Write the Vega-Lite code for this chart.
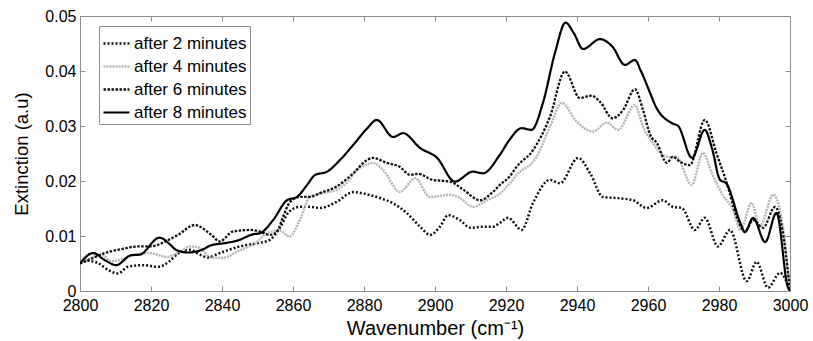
{
  "$schema": "https://vega.github.io/schema/vega-lite/v6.json",
  "autosize": {"type": "none"},
  "width": 710,
  "height": 275,
  "padding": {"left": 80, "top": 16, "right": 23, "bottom": 50},
  "background": "white",
  "config": {
    "font": "Liberation Sans",
    "view": {"stroke": "#8c8c8c", "strokeWidth": 1},
    "axis": {"grid": false, "domainColor": "#8c8c8c", "tickColor": "#8c8c8c", "labelColor": "#000", "titleColor": "#000", "labelFont": "Liberation Sans", "titleFont": "Liberation Sans", "titleFontWeight": "normal", "labelFontSize": 16, "titleFontSize": 20},
    "legend": {"labelExpr": "datum.label + '\u00a0\u00a0\u00a0\u00a0\u00a0\u00a0'"}
  },
  "datasets": {
    "spec": [
      {"s":"after 2 minutes","x":2800,"y":0.005},{"s":"after 2 minutes","x":2802,"y":0.0055},{"s":"after 2 minutes","x":2805,"y":0.0051},{"s":"after 2 minutes","x":2808,"y":0.0038},{"s":"after 2 minutes","x":2810.7,"y":0.0032},{"s":"after 2 minutes","x":2813.5,"y":0.0044},{"s":"after 2 minutes","x":2818,"y":0.0047},{"s":"after 2 minutes","x":2822,"y":0.0044},{"s":"after 2 minutes","x":2825,"y":0.0053},{"s":"after 2 minutes","x":2827.6,"y":0.0068},{"s":"after 2 minutes","x":2831,"y":0.0075},{"s":"after 2 minutes","x":2833.8,"y":0.0066},{"s":"after 2 minutes","x":2836,"y":0.0061},{"s":"after 2 minutes","x":2839,"y":0.0068},{"s":"after 2 minutes","x":2842,"y":0.0075},{"s":"after 2 minutes","x":2845,"y":0.0081},{"s":"after 2 minutes","x":2850,"y":0.0087},{"s":"after 2 minutes","x":2853.5,"y":0.0093},{"s":"after 2 minutes","x":2856.3,"y":0.0115},{"s":"after 2 minutes","x":2859,"y":0.0145},{"s":"after 2 minutes","x":2862,"y":0.0153},{"s":"after 2 minutes","x":2864.5,"y":0.0153},{"s":"after 2 minutes","x":2867.6,"y":0.0151},{"s":"after 2 minutes","x":2872.3,"y":0.0162},{"s":"after 2 minutes","x":2877,"y":0.018},{"s":"after 2 minutes","x":2880,"y":0.0177},{"s":"after 2 minutes","x":2884.5,"y":0.0169},{"s":"after 2 minutes","x":2888,"y":0.016},{"s":"after 2 minutes","x":2892,"y":0.0142},{"s":"after 2 minutes","x":2895.8,"y":0.0117},{"s":"after 2 minutes","x":2898.6,"y":0.0102},{"s":"after 2 minutes","x":2901.4,"y":0.0117},{"s":"after 2 minutes","x":2903.7,"y":0.0138},{"s":"after 2 minutes","x":2907,"y":0.0129},{"s":"after 2 minutes","x":2910,"y":0.0115},{"s":"after 2 minutes","x":2913.5,"y":0.0117},{"s":"after 2 minutes","x":2916.3,"y":0.0117},{"s":"after 2 minutes","x":2918.3,"y":0.0124},{"s":"after 2 minutes","x":2920.6,"y":0.0133},{"s":"after 2 minutes","x":2924.4,"y":0.0111},{"s":"after 2 minutes","x":2927.6,"y":0.016},{"s":"after 2 minutes","x":2932.4,"y":0.0202},{"s":"after 2 minutes","x":2935.2,"y":0.0196},{"s":"after 2 minutes","x":2940.3,"y":0.0242},{"s":"after 2 minutes","x":2943.7,"y":0.0214},{"s":"after 2 minutes","x":2947.3,"y":0.0171},{"s":"after 2 minutes","x":2951.2,"y":0.0169},{"s":"after 2 minutes","x":2955.8,"y":0.0165},{"s":"after 2 minutes","x":2959.6,"y":0.0151},{"s":"after 2 minutes","x":2964.2,"y":0.0165},{"s":"after 2 minutes","x":2967,"y":0.0153},{"s":"after 2 minutes","x":2969.5,"y":0.0151},{"s":"after 2 minutes","x":2973.2,"y":0.0111},{"s":"after 2 minutes","x":2976,"y":0.0133},{"s":"after 2 minutes","x":2979.7,"y":0.0081},{"s":"after 2 minutes","x":2983.1,"y":0.0111},{"s":"after 2 minutes","x":2987.8,"y":0.0018},{"s":"after 2 minutes","x":2990.6,"y":0.0053},{"s":"after 2 minutes","x":2993.8,"y":0.0006},{"s":"after 2 minutes","x":2997.2,"y":0.0033},{"s":"after 2 minutes","x":3000,"y":0},

      {"s":"after 4 minutes","x":2800,"y":0.005},{"s":"after 4 minutes","x":2803,"y":0.006},{"s":"after 4 minutes","x":2806,"y":0.0066},{"s":"after 4 minutes","x":2809,"y":0.0054},{"s":"after 4 minutes","x":2812,"y":0.0058},{"s":"after 4 minutes","x":2815,"y":0.0066},{"s":"after 4 minutes","x":2819.7,"y":0.0069},{"s":"after 4 minutes","x":2824.4,"y":0.0062},{"s":"after 4 minutes","x":2828.2,"y":0.0071},{"s":"after 4 minutes","x":2831,"y":0.0081},{"s":"after 4 minutes","x":2833.8,"y":0.0078},{"s":"after 4 minutes","x":2836.6,"y":0.0062},{"s":"after 4 minutes","x":2840,"y":0.006},{"s":"after 4 minutes","x":2845,"y":0.0074},{"s":"after 4 minutes","x":2850,"y":0.009},{"s":"after 4 minutes","x":2852.6,"y":0.0105},{"s":"after 4 minutes","x":2856.3,"y":0.011},{"s":"after 4 minutes","x":2859,"y":0.0099},{"s":"after 4 minutes","x":2862,"y":0.013},{"s":"after 4 minutes","x":2864.8,"y":0.0172},{"s":"after 4 minutes","x":2868.5,"y":0.0178},{"s":"after 4 minutes","x":2872.3,"y":0.0184},{"s":"after 4 minutes","x":2875,"y":0.0196},{"s":"after 4 minutes","x":2878,"y":0.022},{"s":"after 4 minutes","x":2880.8,"y":0.023},{"s":"after 4 minutes","x":2882.5,"y":0.0233},{"s":"after 4 minutes","x":2885.4,"y":0.022},{"s":"after 4 minutes","x":2890.1,"y":0.018},{"s":"after 4 minutes","x":2894.4,"y":0.0205},{"s":"after 4 minutes","x":2898.6,"y":0.0171},{"s":"after 4 minutes","x":2904.2,"y":0.0175},{"s":"after 4 minutes","x":2907,"y":0.0169},{"s":"after 4 minutes","x":2910.7,"y":0.0153},{"s":"after 4 minutes","x":2914.6,"y":0.0165},{"s":"after 4 minutes","x":2918.3,"y":0.0177},{"s":"after 4 minutes","x":2921.1,"y":0.0196},{"s":"after 4 minutes","x":2923,"y":0.0211},{"s":"after 4 minutes","x":2928.6,"y":0.0244},{"s":"after 4 minutes","x":2932.4,"y":0.0299},{"s":"after 4 minutes","x":2935.7,"y":0.0342},{"s":"after 4 minutes","x":2939.9,"y":0.0308},{"s":"after 4 minutes","x":2944.5,"y":0.029},{"s":"after 4 minutes","x":2948.4,"y":0.0306},{"s":"after 4 minutes","x":2951.6,"y":0.0293},{"s":"after 4 minutes","x":2956.3,"y":0.0338},{"s":"after 4 minutes","x":2958.6,"y":0.0299},{"s":"after 4 minutes","x":2961.4,"y":0.0269},{"s":"after 4 minutes","x":2965.3,"y":0.0244},{"s":"after 4 minutes","x":2968,"y":0.0244},{"s":"after 4 minutes","x":2972.3,"y":0.0193},{"s":"after 4 minutes","x":2975.5,"y":0.0251},{"s":"after 4 minutes","x":2978,"y":0.0214},{"s":"after 4 minutes","x":2981,"y":0.0175},{"s":"after 4 minutes","x":2984,"y":0.0147},{"s":"after 4 minutes","x":2986,"y":0.0111},{"s":"after 4 minutes","x":2989.2,"y":0.016},{"s":"after 4 minutes","x":2991.5,"y":0.0117},{"s":"after 4 minutes","x":2995.3,"y":0.0175},{"s":"after 4 minutes","x":2998,"y":0.0117},{"s":"after 4 minutes","x":3000,"y":0},

      {"s":"after 6 minutes","x":2800,"y":0.005},{"s":"after 6 minutes","x":2802.3,"y":0.0056},{"s":"after 6 minutes","x":2807,"y":0.0069},{"s":"after 6 minutes","x":2811.6,"y":0.0076},{"s":"after 6 minutes","x":2816.3,"y":0.0081},{"s":"after 6 minutes","x":2820,"y":0.0081},{"s":"after 6 minutes","x":2824,"y":0.009},{"s":"after 6 minutes","x":2827.6,"y":0.0102},{"s":"after 6 minutes","x":2832.3,"y":0.012},{"s":"after 6 minutes","x":2837,"y":0.0102},{"s":"after 6 minutes","x":2839.4,"y":0.009},{"s":"after 6 minutes","x":2843,"y":0.0108},{"s":"after 6 minutes","x":2848,"y":0.0111},{"s":"after 6 minutes","x":2850.7,"y":0.0108},{"s":"after 6 minutes","x":2853.5,"y":0.0102},{"s":"after 6 minutes","x":2855.5,"y":0.0108},{"s":"after 6 minutes","x":2857.2,"y":0.0135},{"s":"after 6 minutes","x":2859.2,"y":0.0162},{"s":"after 6 minutes","x":2862,"y":0.0171},{"s":"after 6 minutes","x":2864.8,"y":0.0171},{"s":"after 6 minutes","x":2867.6,"y":0.0178},{"s":"after 6 minutes","x":2872.3,"y":0.019},{"s":"after 6 minutes","x":2877,"y":0.0214},{"s":"after 6 minutes","x":2880.8,"y":0.0238},{"s":"after 6 minutes","x":2882.5,"y":0.0242},{"s":"after 6 minutes","x":2886.4,"y":0.0233},{"s":"after 6 minutes","x":2890,"y":0.0226},{"s":"after 6 minutes","x":2893,"y":0.0211},{"s":"after 6 minutes","x":2895.2,"y":0.0213},{"s":"after 6 minutes","x":2899.4,"y":0.0202},{"s":"after 6 minutes","x":2904.2,"y":0.0199},{"s":"after 6 minutes","x":2908,"y":0.0184},{"s":"after 6 minutes","x":2912.7,"y":0.0165},{"s":"after 6 minutes","x":2916.3,"y":0.018},{"s":"after 6 minutes","x":2918.3,"y":0.0193},{"s":"after 6 minutes","x":2921,"y":0.0208},{"s":"after 6 minutes","x":2923,"y":0.0226},{"s":"after 6 minutes","x":2927.6,"y":0.0256},{"s":"after 6 minutes","x":2932.4,"y":0.0317},{"s":"after 6 minutes","x":2936.6,"y":0.0399},{"s":"after 6 minutes","x":2940.8,"y":0.0351},{"s":"after 6 minutes","x":2944,"y":0.0355},{"s":"after 6 minutes","x":2946.5,"y":0.0344},{"s":"after 6 minutes","x":2950,"y":0.0314},{"s":"after 6 minutes","x":2953,"y":0.0329},{"s":"after 6 minutes","x":2956.3,"y":0.0367},{"s":"after 6 minutes","x":2958.6,"y":0.0329},{"s":"after 6 minutes","x":2960.6,"y":0.0284},{"s":"after 6 minutes","x":2962.5,"y":0.0269},{"s":"after 6 minutes","x":2965.3,"y":0.0233},{"s":"after 6 minutes","x":2967,"y":0.0244},{"s":"after 6 minutes","x":2969,"y":0.0235},{"s":"after 6 minutes","x":2971.8,"y":0.0229},{"s":"after 6 minutes","x":2976,"y":0.0311},{"s":"after 6 minutes","x":2979.3,"y":0.025},{"s":"after 6 minutes","x":2982.2,"y":0.0196},{"s":"after 6 minutes","x":2985,"y":0.0135},{"s":"after 6 minutes","x":2987.3,"y":0.0108},{"s":"after 6 minutes","x":2989.6,"y":0.0129},{"s":"after 6 minutes","x":2992.4,"y":0.0115},{"s":"after 6 minutes","x":2995.8,"y":0.0153},{"s":"after 6 minutes","x":2997.7,"y":0.0117},{"s":"after 6 minutes","x":3000,"y":0},

      {"s":"after 8 minutes","x":2800,"y":0.005},{"s":"after 8 minutes","x":2803.7,"y":0.0069},{"s":"after 8 minutes","x":2807,"y":0.0056},{"s":"after 8 minutes","x":2810.2,"y":0.0047},{"s":"after 8 minutes","x":2814.4,"y":0.0065},{"s":"after 8 minutes","x":2816.8,"y":0.0066},{"s":"after 8 minutes","x":2822.4,"y":0.0097},{"s":"after 8 minutes","x":2825.3,"y":0.0085},{"s":"after 8 minutes","x":2827,"y":0.0075},{"s":"after 8 minutes","x":2830.4,"y":0.007},{"s":"after 8 minutes","x":2834,"y":0.0074},{"s":"after 8 minutes","x":2836.9,"y":0.0083},{"s":"after 8 minutes","x":2840.8,"y":0.0087},{"s":"after 8 minutes","x":2844.5,"y":0.0092},{"s":"after 8 minutes","x":2848.7,"y":0.0103},{"s":"after 8 minutes","x":2850.7,"y":0.0105},{"s":"after 8 minutes","x":2854.4,"y":0.0129},{"s":"after 8 minutes","x":2858.3,"y":0.0165},{"s":"after 8 minutes","x":2861.1,"y":0.0171},{"s":"after 8 minutes","x":2864,"y":0.0193},{"s":"after 8 minutes","x":2866.2,"y":0.0211},{"s":"after 8 minutes","x":2869.6,"y":0.0217},{"s":"after 8 minutes","x":2873.2,"y":0.0238},{"s":"after 8 minutes","x":2876.9,"y":0.0265},{"s":"after 8 minutes","x":2880.8,"y":0.0295},{"s":"after 8 minutes","x":2883.6,"y":0.0311},{"s":"after 8 minutes","x":2888.2,"y":0.028},{"s":"after 8 minutes","x":2891,"y":0.0287},{"s":"after 8 minutes","x":2895.8,"y":0.026},{"s":"after 8 minutes","x":2900.6,"y":0.0242},{"s":"after 8 minutes","x":2905.6,"y":0.0199},{"s":"after 8 minutes","x":2910.7,"y":0.0217},{"s":"after 8 minutes","x":2913.5,"y":0.0214},{"s":"after 8 minutes","x":2918.3,"y":0.0248},{"s":"after 8 minutes","x":2921,"y":0.0275},{"s":"after 8 minutes","x":2924.4,"y":0.0296},{"s":"after 8 minutes","x":2927.2,"y":0.0293},{"s":"after 8 minutes","x":2930.4,"y":0.0342},{"s":"after 8 minutes","x":2933.8,"y":0.0433},{"s":"after 8 minutes","x":2936.8,"y":0.0488},{"s":"after 8 minutes","x":2939,"y":0.047},{"s":"after 8 minutes","x":2941.7,"y":0.044},{"s":"after 8 minutes","x":2946.5,"y":0.0458},{"s":"after 8 minutes","x":2950,"y":0.0444},{"s":"after 8 minutes","x":2953.5,"y":0.0411},{"s":"after 8 minutes","x":2956.3,"y":0.042},{"s":"after 8 minutes","x":2958,"y":0.04},{"s":"after 8 minutes","x":2960.6,"y":0.036},{"s":"after 8 minutes","x":2962,"y":0.0338},{"s":"after 8 minutes","x":2966.8,"y":0.0305},{"s":"after 8 minutes","x":2968.5,"y":0.03},{"s":"after 8 minutes","x":2972.4,"y":0.0242},{"s":"after 8 minutes","x":2976,"y":0.0293},{"s":"after 8 minutes","x":2978,"y":0.026},{"s":"after 8 minutes","x":2980.3,"y":0.0202},{"s":"after 8 minutes","x":2982,"y":0.0196},{"s":"after 8 minutes","x":2986,"y":0.0124},{"s":"after 8 minutes","x":2987.3,"y":0.0107},{"s":"after 8 minutes","x":2989.6,"y":0.0133},{"s":"after 8 minutes","x":2993,"y":0.0089},{"s":"after 8 minutes","x":2996.2,"y":0.0142},{"s":"after 8 minutes","x":2999.4,"y":0.0007},{"s":"after 8 minutes","x":3000,"y":0}
    ]
  },
  "data": {"name": "spec"},
  "layer": [
    {
      "mark": {"type": "line", "interpolate": "monotone", "strokeCap": "butt", "clip": true},
      "encoding": {
        "x": {"field": "x", "type": "quantitative", "scale": {"domain": [2800, 3000], "nice": false, "zero": false},
              "axis": {"values": [2800,2820,2840,2860,2880,2900,2920,2940,2960,2980,3000], "format": "d", "tickSize": -5, "labelPadding": 11, "title": "Wavenumber (cm⁻¹)", "titlePadding": 5, "labelFlush": false}},
        "y": {"field": "y", "type": "quantitative", "scale": {"domain": [0, 0.05], "nice": false},
              "axis": {"values": [0,0.01,0.02,0.03,0.04,0.05], "format": ".2~f", "tickSize": -5, "labelPadding": 9, "title": "Extinction (a.u)", "titleFontSize": 18.5, "titlePadding": 13, "labelFlush": false}},
        "color": {"field": "s", "type": "nominal", "scale": {"domain": ["after 2 minutes","after 4 minutes","after 6 minutes","after 8 minutes"], "range": ["#111111","#b4b4b4","#111111","#000000"]},
                  "legend": {"title": null, "orient": "none", "legendX": 19, "legendY": 10, "strokeColor": "#8c8c8c", "fillColor": "white", "padding": 3, "rowPadding": -2, "labelFontSize": 17, "labelFont": "Liberation Sans", "labelColor": "#000", "symbolType": "stroke", "symbolSize": 676, "symbolStrokeWidth": 2.5, "labelOffset": 3, "labelLimit": 300}},
        "strokeDash": {"field": "s", "type": "nominal", "scale": {"domain": ["after 2 minutes","after 4 minutes","after 6 minutes","after 8 minutes"], "range": [[2,2],[2,1],[2.5,1.5],[1,0]]}, "legend": {"title": null}},
        "strokeWidth": {"field": "s", "type": "nominal", "scale": {"domain": ["after 2 minutes","after 4 minutes","after 6 minutes","after 8 minutes"], "range": [2.5,2.2,2.5,2.5]}, "legend": {"title": null}}
      }
    },
    {
      "mark": {"type": "line", "strokeOpacity": 0},
      "encoding": {
        "x": {"field": "x", "type": "quantitative", "axis": {"orient": "top", "values": [2800,2820,2840,2860,2880,2900,2920,2940,2960,2980,3000], "labels": false, "domain": false, "tickSize": -5, "title": null}},
        "y": {"field": "y", "type": "quantitative", "axis": {"orient": "right", "values": [0,0.01,0.02,0.03,0.04,0.05], "labels": false, "domain": false, "tickSize": -5, "title": null}}
      }
    }
  ],
  "resolve": {"axis": {"x": "independent", "y": "independent"}}
}
